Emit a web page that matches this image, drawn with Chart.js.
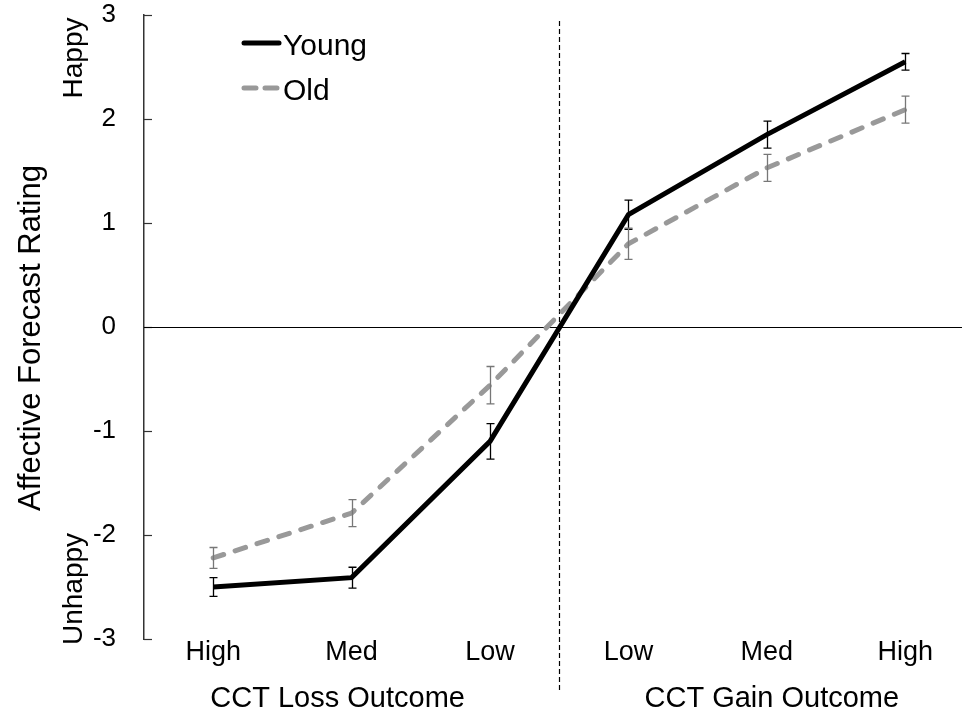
<!DOCTYPE html>
<html>
<head>
<meta charset="utf-8">
<script src="https://cdn.jsdelivr.net/npm/chart.js@4/dist/chart.umd.min.js"></script>
<style>
  html, body { margin: 0; padding: 0; background: #fff; }
  canvas { display: block; }
</style>
</head>
<body>
<canvas id="chart" width="962" height="715"></canvas>
<script>
// outcome levels, loss side then gain side
var categories = ['High', 'Med', 'Low', 'Low', 'Med', 'High'];
var groups = ['CCT Loss Outcome', 'CCT Gain Outcome'];
var youngMeans = [-2.50, -2.41, -1.10, 1.08, 1.85, 2.55];
var youngErr = [0.09, 0.10, 0.17, 0.14, 0.13, 0.08];
var oldMeans = [-2.22, -1.79, -0.56, 0.80, 1.53, 2.09];
var oldErr = [0.10, 0.13, 0.18, 0.15, 0.13, 0.13];
var yTicks = [-3, -2, -1, 0, 1, 2, 3];

var FONT = 'Liberation Sans, Arial, Helvetica, sans-serif';

function points(values) {
    return values.map(function(v, i) { return { x: i, y: v }; });
}

function vText(ctx, text, x, y) {
    ctx.save();
    ctx.translate(x, y);
    ctx.rotate(-Math.PI / 2);
    ctx.fillText(text, 0, 0);
    ctx.restore();
}

// zero line, divider, error bars, legend and side labels
var extras = {
    id: 'extras',
    beforeDatasetsDraw: function(chart) {
        var ctx = chart.ctx, a = chart.chartArea;
        var xs = chart.scales.x, ys = chart.scales.y;
        ctx.save();
        // inward ticks on y axis
        ctx.strokeStyle = '#333';
        ctx.lineWidth = 1.2;
        yTicks.forEach(function(t) {
            var py = Math.round(ys.getPixelForValue(t)) + 0.5;
            ctx.beginPath();
            ctx.moveTo(a.left, py);
            ctx.lineTo(a.left + 8, py);
            ctx.stroke();
        });
        // zero line
        var y0 = Math.round(ys.getPixelForValue(0)) + 0.5;
        ctx.strokeStyle = '#000';
        ctx.lineWidth = 1;
        ctx.beginPath();
        ctx.moveTo(a.left, y0);
        ctx.lineTo(chart.width, y0);
        ctx.stroke();
        // loss / gain divider
        var xm = Math.round(xs.getPixelForValue(2.5)) + 0.5;
        ctx.setLineDash([5, 3]);
        ctx.lineWidth = 1.2;
        ctx.beginPath();
        ctx.moveTo(xm, 21);
        ctx.lineTo(xm, 693);
        ctx.stroke();
        ctx.restore();
    },
    afterDatasetsDraw: function(chart) {
        var ctx = chart.ctx;
        var xs = chart.scales.x, ys = chart.scales.y;
        ctx.save();
        [[youngMeans, youngErr, '#000'], [oldMeans, oldErr, '#777']].forEach(function(s) {
            ctx.strokeStyle = s[2];
            ctx.lineWidth = 1.3;
            s[0].forEach(function(m, i) {
                var px = Math.round(xs.getPixelForValue(i)) + 0.5;
                var top = ys.getPixelForValue(m + s[1][i]);
                var bot = ys.getPixelForValue(m - s[1][i]);
                ctx.beginPath();
                ctx.moveTo(px, top); ctx.lineTo(px, bot);
                ctx.moveTo(px - 4, top); ctx.lineTo(px + 4, top);
                ctx.moveTo(px - 4, bot); ctx.lineTo(px + 4, bot);
                ctx.stroke();
            });
        });

        // legend
        ctx.lineWidth = 5;
        ctx.lineCap = 'round';
        ctx.strokeStyle = '#000';
        ctx.beginPath(); ctx.moveTo(244, 43); ctx.lineTo(279, 43); ctx.stroke();
        ctx.strokeStyle = '#999';
        ctx.setLineDash([12, 9]);
        ctx.beginPath(); ctx.moveTo(244, 88); ctx.lineTo(279, 88); ctx.stroke();
        ctx.setLineDash([]);
        ctx.fillStyle = '#000';
        ctx.font = '30px ' + FONT;
        ctx.textAlign = 'left';
        ctx.textBaseline = 'alphabetic';
        ctx.fillText('Young', 283, 55);
        ctx.fillText('Old', 283, 100);

        // group labels under the categories
        ctx.font = '29px ' + FONT;
        ctx.textAlign = 'center';
        ctx.fillText(groups[0], xs.getPixelForValue(1) - 14, 707);
        ctx.fillText(groups[1], xs.getPixelForValue(4) + 5, 707);

        // axis title and the Happy / Unhappy anchors
        ctx.font = '31px ' + FONT;
        vText(ctx, 'Affective Forecast Rating', 40, 338);
        ctx.font = '28px ' + FONT;
        vText(ctx, 'Happy', 82, 58);
        vText(ctx, 'Unhappy', 82, 589);
        ctx.restore();
    }
};

var ctx = document.getElementById('chart').getContext('2d');
var chart = new Chart(ctx, {
    type: 'line',
    data: {
        datasets: [{
            label: 'Young',
            data: points(youngMeans),
            borderColor: '#000',
            borderWidth: 5,
            pointRadius: 0,
            tension: 0,
            fill: false
        }, {
            label: 'Old',
            data: points(oldMeans),
            borderColor: '#999',
            borderWidth: 5,
            borderDash: [11, 12],
            borderCapStyle: 'round',
            pointRadius: 0,
            tension: 0,
            fill: false
        }]
    },
    options: {
        responsive: false,
        animation: false,
        layout: { autoPadding: false, padding: { top: 15, right: 0, bottom: 0, left: 0 } },
        plugins: { legend: { display: false }, tooltip: { enabled: false } },
        scales: {
            x: {
                type: 'linear',
                min: -0.5,
                max: 5.41,
                grid: { display: false, drawTicks: false },
                border: { display: false },
                afterBuildTicks: function(scale) {
                    scale.ticks = categories.map(function(c, i) { return { value: i }; });
                },
                afterFit: function(scale) {
                    scale.height = 76;
                    scale.paddingLeft = 0;
                    scale.paddingRight = 0;
                },
                ticks: {
                    autoSkip: false,
                    maxRotation: 0,
                    padding: -3,
                    color: '#000',
                    font: { family: FONT, size: 27 },
                    callback: function(v) { return categories[v]; }
                }
            },
            y: {
                min: -3,
                max: 3,
                afterBuildTicks: function(scale) {
                    scale.ticks = yTicks.map(function(v) { return { value: v }; });
                },
                afterFit: function(scale) {
                    scale.width = 144;
                    scale.paddingTop = 0;
                    scale.paddingBottom = 0;
                },
                grid: { display: false, drawTicks: false },
                border: { display: true, color: '#333', width: 1.5 },
                ticks: {
                    padding: 28,
                    color: '#000',
                    font: { family: FONT, size: 26 }
                }
            }
        }
    },
    plugins: [extras]
});
</script>
</body>
</html>
